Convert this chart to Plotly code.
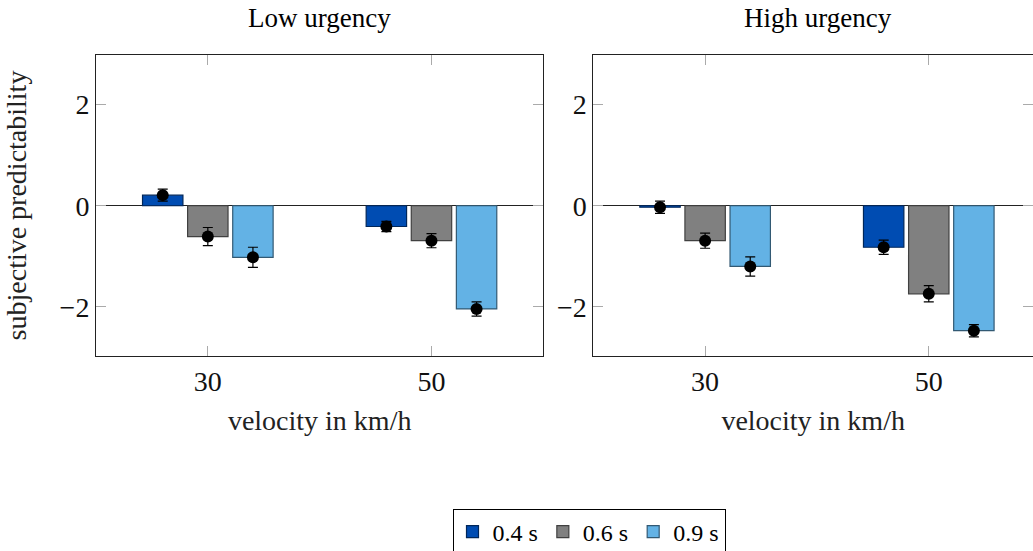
import plotly.graph_objects as go

categories = ["30", "50"]
series_names = ["0.4 s", "0.6 s", "0.9 s"]

low_means = {
    "0.4": [0.21, -0.41],
    "0.6": [-0.61, -0.69],
    "0.9": [-1.02, -2.04],
}
low_err = {
    "0.4": [0.12, 0.10],
    "0.6": [0.18, 0.14],
    "0.9": [0.20, 0.14],
}
high_means = {
    "0.4": [-0.03, -0.82],
    "0.6": [-0.69, -1.74],
    "0.9": [-1.20, -2.47],
}
high_err = {
    "0.4": [0.12, 0.14],
    "0.6": [0.15, 0.16],
    "0.9": [0.19, 0.12],
}
keys = ["0.4", "0.6", "0.9"]
fill_colors = ["rgb(0,76,178)", "rgb(128,128,128)", "rgb(99,178,229)"]
line_colors = ["rgb(0,38,89)", "rgb(64,64,64)", "rgb(50,89,115)"]

panel_titles = ["Low urgency", "High urgency"]
y_ticks = [-2, 0, 2]
y_tick_text = ["\u22122", "0", "2"]

FONT = "Liberation Serif"
FS = 28

W, H = 1033, 551
L, T, B = 96, 55, 195
PW = W - L
PH = H - T - B

fig = go.Figure()

panels = [(low_means, low_err, "x", "y"), (high_means, high_err, "x2", "y2")]
for pi, (means, errs, xa, ya) in enumerate(panels):
    for i, k in enumerate(keys):
        fig.add_trace(go.Bar(
            x=categories, y=means[k], xaxis=xa, yaxis=ya,
            name=series_names[i], legendgroup=k, showlegend=(pi == 0),
            marker=dict(color=fill_colors[i], line=dict(color=line_colors[i], width=1.2)),
        ))
    for i, k in enumerate(keys):
        fig.add_trace(go.Scatter(
            x=categories, y=means[k], xaxis=xa, yaxis=ya, mode="markers",
            showlegend=False, legendgroup=k,
            marker=dict(color="black", size=12),
            error_y=dict(type="data", array=errs[k], visible=True,
                         color="black", thickness=1.2, width=5),
        ))

axis_common = dict(
    showline=True, linecolor="#222", linewidth=1, mirror="ticks",
    ticks="inside", ticklen=10, tickcolor="#aaa", tickwidth=1.2,
    showgrid=False, automargin=False,
    tickfont=dict(family=FONT, size=FS, color="#111"),
)

left_end_px = 543.3
right_start_px = 593.3
left_dom = [0, (left_end_px - L) / PW]
right_dom = [(right_start_px - L) / PW, 1]
spacing = (left_end_px - L) / 2.0
right_end = -0.5 + (W - right_start_px) / spacing

fig.update_layout(
    width=W, height=H,
    margin=dict(l=L, r=0, t=T, b=B, autoexpand=False),
    paper_bgcolor="white", plot_bgcolor="white",
    barmode="group", bargap=0.395, bargroupgap=0.104,
    scattermode="group", scattergap=0.395,
    font=dict(family=FONT, size=FS, color="black"),
    xaxis=dict(domain=left_dom, range=[-0.5, 1.5], type="category",
               title=dict(text="velocity in km/h", standoff=14,
                          font=dict(family=FONT, size=FS, color="#222")),
               **axis_common),
    xaxis2=dict(domain=right_dom, range=[-0.5, right_end], type="category",
                anchor="y2",
                title=dict(text="velocity in km/h", standoff=14,
                           font=dict(family=FONT, size=FS, color="#222")),
                **axis_common),
    yaxis=dict(range=[-2.97, 2.98], tickvals=y_ticks, ticktext=y_tick_text,
               zeroline=True, zerolinecolor="#222", zerolinewidth=1.2,
               title=dict(text="subjective predictability", standoff=24,
                          font=dict(family=FONT, size=FS, color="#222")),
               **axis_common),
    yaxis2=dict(range=[-2.97, 2.98], tickvals=y_ticks, ticktext=y_tick_text,
                anchor="x2",
                zeroline=True, zerolinecolor="#222", zerolinewidth=1.2,
                **axis_common),
    legend=dict(orientation="h", x=(589 - L) / PW, y=(356 - 532) / PH,
                xanchor="center", yanchor="middle",
                bordercolor="black", borderwidth=1,
                font=dict(family=FONT, size=24, color="black"),
                itemwidth=30, tracegroupgap=0),
    showlegend=True,
)

for pi, t in enumerate(panel_titles):
    dom = left_dom if pi == 0 else [right_dom[0], (1042 - L) / PW]
    fig.add_annotation(
        text=t, xref="paper", yref="paper",
        x=(dom[0] + dom[1]) / 2, y=(356 - 18) / PH,
        xanchor="center", yanchor="middle", showarrow=False,
        font=dict(family=FONT, size=27, color="black"),
    )

fig.write_html(
    "out.html",
    config={"displayModeBar": False},
    post_script="document.body.style.margin='0';document.body.style.overflow='hidden';",
)
